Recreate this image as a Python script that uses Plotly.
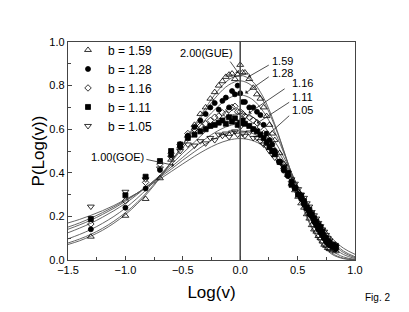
import plotly.graph_objects as go

# ---- theoretical curves ----
curve_x = [-1.5, -1.4, -1.3, -1.2, -1.1, -1.0, -0.9, -0.8, -0.7, -0.6, -0.5, -0.4, -0.3,
           -0.2, -0.1, 0.0, 0.1, 0.2, 0.3, 0.4, 0.5, 0.6, 0.7, 0.8, 0.9, 1.0]
curve_goe = [0.170, 0.186, 0.205, 0.226, 0.250, 0.277, 0.306, 0.338, 0.371, 0.406, 0.441, 0.475, 0.506,
             0.532, 0.550, 0.557, 0.549, 0.524, 0.479, 0.415, 0.336, 0.252, 0.170, 0.100, 0.054, 0.026]
curve_105 = [0.151, 0.170, 0.192, 0.217, 0.244, 0.274, 0.306, 0.341, 0.379, 0.417, 0.458, 0.496, 0.532,
             0.563, 0.584, 0.592, 0.582, 0.553, 0.500, 0.427, 0.339, 0.246, 0.158, 0.088, 0.041, 0.015]
curve_111 = [0.141, 0.161, 0.183, 0.209, 0.237, 0.269, 0.304, 0.343, 0.384, 0.427, 0.471, 0.516, 0.557,
             0.591, 0.615, 0.625, 0.614, 0.580, 0.520, 0.438, 0.341, 0.239, 0.148, 0.078, 0.034, 0.011]
curve_116 = [0.125, 0.146, 0.169, 0.196, 0.226, 0.260, 0.299, 0.342, 0.388, 0.438, 0.490, 0.540, 0.590,
             0.631, 0.660, 0.671, 0.658, 0.617, 0.545, 0.451, 0.339, 0.228, 0.133, 0.065, 0.025, 0.007]
curve_128 = [0.097, 0.117, 0.140, 0.168, 0.200, 0.238, 0.282, 0.332, 0.388, 0.449, 0.515, 0.582, 0.646,
             0.701, 0.742, 0.757, 0.739, 0.682, 0.589, 0.465, 0.329, 0.202, 0.105, 0.043, 0.014, 0.003]
curve_159 = [0.078, 0.096, 0.118, 0.145, 0.178, 0.217, 0.263, 0.318, 0.380, 0.451, 0.527, 0.607, 0.685,
             0.754, 0.803, 0.822, 0.800, 0.731, 0.616, 0.469, 0.315, 0.180, 0.084, 0.031, 0.008, 0.001]
curve_gue = [0.071, 0.088, 0.110, 0.136, 0.169, 0.208, 0.256, 0.311, 0.376, 0.450, 0.531, 0.616, 0.699,
             0.773, 0.827, 0.847, 0.823, 0.748, 0.625, 0.469, 0.308, 0.171, 0.077, 0.026, 0.006, 0.001]

# ---- measured data ----
data_x = [-1.301, -1.0, -0.824, -0.699, -0.602, -0.523, -0.456, -0.398, -0.347, -0.301,
          -0.260, -0.222, -0.187, -0.155, -0.125, -0.097, -0.071, -0.046, -0.022, 0.0,
          0.021, 0.041, 0.079, 0.114, 0.146, 0.176, 0.204, 0.230, 0.255, 0.279, 0.301,
          0.342, 0.380, 0.415, 0.447, 0.477, 0.505, 0.531, 0.556, 0.580, 0.602, 0.623,
          0.643, 0.663, 0.681, 0.699, 0.716, 0.732, 0.748, 0.763, 0.778, 0.806, 0.833]
b159 = [0.107, 0.203, 0.28, 0.375, 0.46, 0.52, 0.57, 0.62, 0.67, 0.70, 0.74, 0.77, 0.80, 0.82, 0.84,
        0.85, 0.855, 0.83, 0.85, 0.895,
        0.86, 0.86, 0.83, 0.79, 0.76, 0.74, 0.70, 0.66, 0.62, 0.58, 0.55, 0.49, 0.44, 0.39, 0.35, 0.32,
        0.29, 0.26, 0.24, 0.21, 0.19, 0.16, 0.14, 0.13, 0.11, 0.10, 0.085, 0.07, 0.065, 0.055, 0.05,
        0.045, 0.04]
b128 = [0.141, 0.24, 0.328, 0.413, 0.48, 0.52, 0.57, 0.61, 0.64, 0.67, 0.70, 0.72, 0.69, 0.73, 0.745,
        0.70, 0.775, 0.76, 0.80, 0.765,
        0.725, 0.725, 0.70, 0.70, 0.68, 0.665, 0.62, 0.58, 0.55, 0.53, 0.50, 0.45, 0.41, 0.385, 0.36,
        0.33, 0.30, 0.28, 0.255, 0.235, 0.21, 0.20, 0.175, 0.16, 0.14, 0.125, 0.115, 0.10, 0.085, 0.075,
        0.07, 0.06, 0.05]
b116 = [0.165, 0.271, 0.356, 0.44, 0.49, 0.53, 0.58, 0.60, 0.615, 0.625, 0.64, 0.655, 0.66, 0.675, 0.67,
        0.69, 0.70, 0.705, 0.68, 0.68,
        0.67, 0.66, 0.655, 0.64, 0.63, 0.61, 0.58, 0.56, 0.53, 0.51, 0.49, 0.45, 0.42, 0.39, 0.36, 0.33,
        0.31, 0.285, 0.26, 0.24, 0.22, 0.205, 0.185, 0.165, 0.15, 0.135, 0.12, 0.105, 0.09, 0.08, 0.07,
        0.06, 0.05]
b111 = [0.188, 0.297, 0.382, 0.454, 0.50, 0.53, 0.56, 0.575, 0.59, 0.60, 0.615, 0.62, 0.63, 0.64, 0.625,
        0.655, 0.635, 0.65, 0.62, 0.63,
        0.64, 0.625, 0.615, 0.60, 0.59, 0.575, 0.56, 0.54, 0.52, 0.50, 0.485, 0.45, 0.42, 0.40, 0.345,
        0.33, 0.30, 0.295, 0.27, 0.24, 0.23, 0.21, 0.19, 0.175, 0.16, 0.15, 0.13, 0.105, 0.10, 0.085,
        0.08, 0.07, 0.065]
b105 = [0.245, 0.313, 0.37, 0.42, 0.47, 0.50, 0.53, 0.525, 0.545, 0.535, 0.56, 0.55, 0.575, 0.57, 0.58,
        0.565, 0.585, 0.59, 0.575, 0.61,
        0.58, 0.57, 0.585, 0.56, 0.56, 0.545, 0.53, 0.52, 0.50, 0.485, 0.47, 0.45, 0.43, 0.40, 0.37,
        0.35, 0.325, 0.30, 0.285, 0.26, 0.245, 0.22, 0.205, 0.19, 0.17, 0.155, 0.14, 0.13, 0.115, 0.10,
        0.09, 0.075, 0.06]

legend_labels = ["b = 1.59", "b = 1.28", "b = 1.16", "b = 1.11", "b = 1.05"]
curve_labels = ["2.00(GUE)", "1.59", "1.28", "1.16", "1.11", "1.05", "1.00(GOE)"]
x_tickvals = [-1.5, -1.0, -0.5, 0.0, 0.5, 1.0]
y_tickvals = [0.0, 0.2, 0.4, 0.6, 0.8, 1.0]

FONT = "Arial, Liberation Sans, sans-serif"
fig = go.Figure()

for cy in [curve_goe, curve_105, curve_111, curve_116, curve_128, curve_159, curve_gue]:
    fig.add_trace(go.Scatter(x=curve_x, y=cy, mode="lines", line=dict(color="#555", width=0.9, shape="spline"),
                             showlegend=False, hoverinfo="skip"))

series = [(b159, "triangle-up-open", 6), (b128, "circle", 5), (b116, "diamond-open", 5),
          (b111, "square", 5), (b105, "triangle-down-open", 6)]
for (ys, sym, sz), lab in zip(series, legend_labels):
    fig.add_trace(go.Scatter(x=data_x, y=ys, mode="markers", name=lab,
                             marker=dict(symbol=sym, size=sz, color="black", line=dict(color="black", width=0.8))))

# vertical line at 0
fig.add_shape(type="line", x0=0, x1=0, y0=0, y1=1, xref="x", yref="y", line=dict(color="#444", width=1.5))

# curve labels (text centre) and arrow tails/heads, in data units
label_pos = [(-0.296, 0.950), (0.366, 0.913), (0.366, 0.856), (0.54, 0.812), (0.54, 0.748), (0.54, 0.688),
             (-1.071, 0.472)]
tails = [(-0.096, 0.917), (0.262, 0.898), (0.262, 0.845), (0.40, 0.79), (0.44, 0.728), (0.44, 0.668),
         (-0.83, 0.463)]
heads = [(-0.015, 0.857), (0.07, 0.84), (0.044, 0.765), (0.073, 0.673), (0.145, 0.627), (0.24, 0.573),
         (-0.575, 0.434)]
for lab, (lx, ly) in zip(curve_labels, label_pos):
    fig.add_annotation(x=(lx + 1.5) / 2.5, y=ly, xref="paper", yref="paper", text=lab, showarrow=False,
                       xanchor="center", yanchor="middle",
                       font=dict(family=FONT, size=11, color="black"))
for (tx, ty), (hx, hy) in zip(tails, heads):
    fig.add_annotation(x=hx, y=hy, ax=tx, ay=ty, xref="x", yref="y", axref="x", ayref="y", text="",
                       showarrow=True, arrowhead=1, arrowsize=1, arrowwidth=0.8, arrowcolor="#222")

fig.add_annotation(x=1.129, y=-0.205, xref="paper", yref="paper", text="Fig. 2", showarrow=False,
                   font=dict(family=FONT, size=10, color="black"))

axis_common = dict(showline=True, linecolor="#444", linewidth=1.3, mirror=True, ticks="inside", ticklen=4,
                   tickcolor="#444", showgrid=False, zeroline=False, tickformat=".1f",
                   tickfont=dict(family=FONT, size=11, color="black"))
fig.update_xaxes(range=[-1.5, 1.0], tickvals=x_tickvals, **axis_common,
                 minor=dict(dtick=0.25, ticks="inside", ticklen=3, tickcolor="#444"),
                 title=dict(text="Log(v)", font=dict(family=FONT, size=17, color="black"), standoff=10))
fig.update_yaxes(range=[0, 1.0], tickvals=y_tickvals, **axis_common,
                 minor=dict(dtick=0.1, ticks="inside", ticklen=3, tickcolor="#444"),
                 title=dict(text="P(Log(v))", font=dict(family=FONT, size=17, color="black"), standoff=0))

fig.update_layout(width=409, height=312, margin=dict(l=68, r=54, t=42, b=52, autoexpand=False),
                  paper_bgcolor="white", plot_bgcolor="white",
                  legend=dict(x=0.0, y=1.03, xanchor="left", yanchor="top", bgcolor="rgba(0,0,0,0)",
                              font=dict(family=FONT, size=12, color="black"), tracegroupgap=0,
                              itemwidth=30))
fig.write_html("out.html", config={"displayModeBar": False},
               post_script="document.body.style.margin='0';")
